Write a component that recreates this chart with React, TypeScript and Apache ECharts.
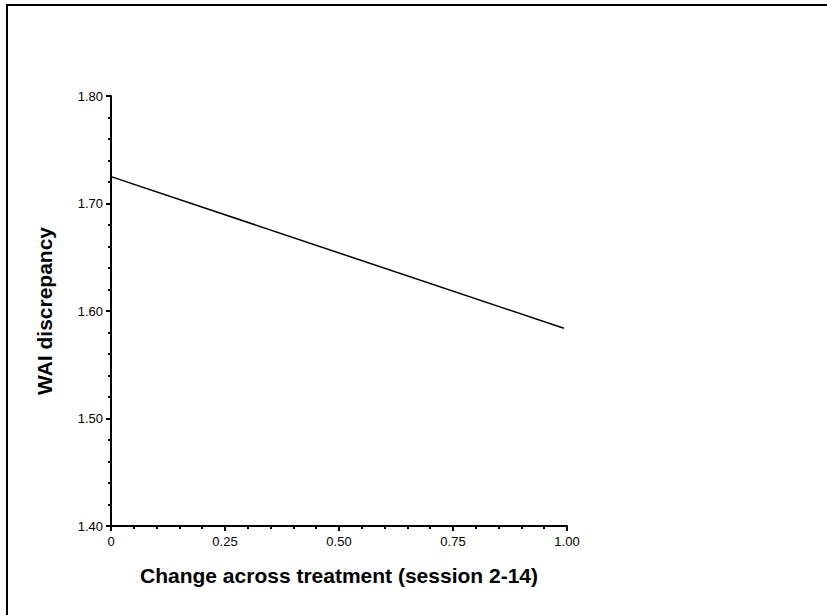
import React, { useEffect, useRef } from "react";
import * as echarts from "echarts";

const xValues = [0, 0.993];
const yValues = [1.725, 1.584];
const xTickInterval = 0.25;
const yTickInterval = 0.1;

export default function App() {
  const ref = useRef<HTMLDivElement>(null);
  useEffect(() => {
    if (!ref.current) return;
    const chart = echarts.init(ref.current, null, { renderer: "svg" });
    const font = "'Liberation Sans', Arial, sans-serif";
    chart.setOption({
      animation: false,
      backgroundColor: "#fff",
      grid: { left: 111, right: 260, top: 96, bottom: 89, containLabel: false },
      graphic: [
        {
          type: "rect",
          shape: { x: 7, y: 5, width: 900, height: 700 },
          style: { fill: "none", stroke: "#000", lineWidth: 2 },
          silent: true,
        },
      ],
      xAxis: {
        type: "value",
        min: 0,
        max: 1,
        interval: xTickInterval,
        name: "Change across treatment (session 2-14)",
        nameLocation: "middle",
        nameGap: 39,
        nameTextStyle: { fontFamily: font, fontWeight: "bold", fontSize: 21, color: "#000" },
        axisLine: { lineStyle: { color: "#000", width: 2 } },
        axisTick: { show: true, length: 5, lineStyle: { color: "#000", width: 2 } },
        minorTick: { show: true, splitNumber: 5, length: 3, lineStyle: { color: "#000", width: 2 } },
        splitLine: { show: false },
        axisLabel: {
          fontFamily: font,
          fontSize: 13,
          color: "#000",
          margin: 9,
          formatter: (v: number) => (v === 0 ? "0" : v.toFixed(2)),
        },
      },
      yAxis: {
        type: "value",
        min: 1.4,
        max: 1.8,
        interval: yTickInterval,
        name: "WAI discrepancy",
        nameLocation: "middle",
        nameGap: 56,
        nameTextStyle: { fontFamily: font, fontWeight: "bold", fontSize: 21, color: "#000" },
        axisLine: { show: true, lineStyle: { color: "#000", width: 2 } },
        axisTick: { show: true, length: 5, lineStyle: { color: "#000", width: 2 } },
        minorTick: { show: true, splitNumber: 5, length: 3, lineStyle: { color: "#000", width: 2 } },
        splitLine: { show: false },
        axisLabel: {
          fontFamily: font,
          fontSize: 13,
          color: "#000",
          margin: 8,
          formatter: (v: number) => v.toFixed(2),
        },
      },
      series: [
        {
          type: "line",
          data: xValues.map((x, i) => [x, yValues[i]]),
          symbol: "none",
          lineStyle: { color: "#000", width: 1.5 },
        },
      ],
    });
    return () => chart.dispose();
  }, []);
  return (
    <div
      ref={ref}
      style={{ position: "fixed", left: 0, top: 0, width: 827, height: 615 }}
    />
  );
}
